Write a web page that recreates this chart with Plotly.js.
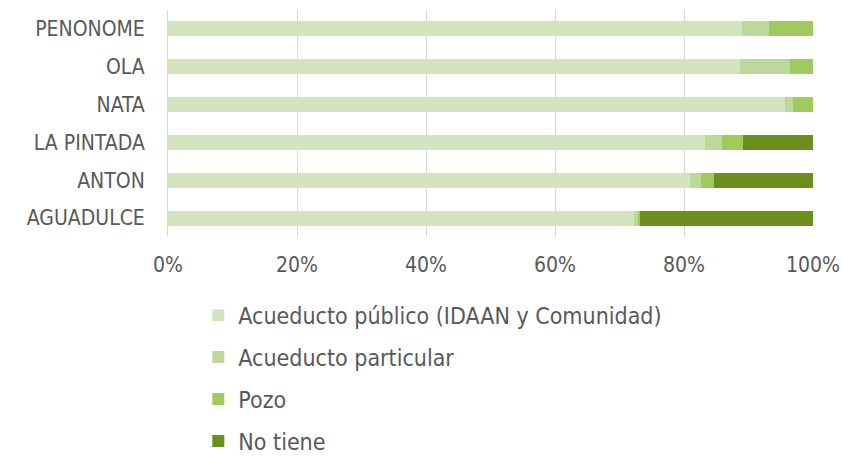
<!DOCTYPE html>
<html>
<head>
<meta charset="utf-8">
<script src="https://cdn.plot.ly/plotly-3.0.1.min.js"></script>
<style>html,body{margin:0;padding:0;background:#fff;}#chart{width:842px;height:456px;}</style>
</head>
<body>
<div id="chart"></div>
<script>
const categories = ["AGUADULCE", "ANTON", "LA PINTADA", "NATA", "OLA", "PENONOME"];
const seriesNames = ["Acueducto público (IDAAN y Comunidad)", "Acueducto particular", "Pozo", "No tiene"];
const publico    = [72.2, 80.9, 83.3, 95.7, 88.7, 89.0];
const particular = [0.6, 1.7, 2.6, 1.2, 7.7, 4.2];
const pozo       = [0.3, 2.1, 3.2, 3.1, 3.6, 6.8];
const noTiene    = [26.9, 15.3, 10.9, 0.0, 0.0, 0.0];
const colors = ["#d3e4bf", "#bcd89a", "#a0c95e", "#6a8f1c"];
const tickVals = [0, 20, 40, 60, 80, 100];
const tickText = ["0%", "20%", "40%", "60%", "80%", "100%"];

const values = [publico, particular, pozo, noTiene];
const font = "'DejaVu Sans Condensed', 'DejaVu Sans', sans-serif";
const traces = values.map((v, i) => ({
  type: "bar",
  orientation: "h",
  x: v,
  y: categories,
  name: seriesNames[i],
  legendgroup: "g" + i,
  marker: {color: colors[i], line: {width: 0}},
  hoverinfo: "x+name"
}));

const layout = {
  width: 842, height: 456,
  margin: {l: 168, r: 29, t: 10, b: 219, autoexpand: false},
  barmode: "stack",
  bargap: 0.6,
  paper_bgcolor: "#fff", plot_bgcolor: "#fff",
  font: {family: font, color: "#595959", size: 21},
  xaxis: {
    range: [0, 100], tickvals: tickVals, ticktext: tickText,
    showgrid: true, gridcolor: "#d9d9d9", gridwidth: 1,
    zeroline: false, showline: false,
    ticks: "outside", ticklen: 9, tickcolor: "rgba(0,0,0,0)",
    tickfont: {family: font, color: "#595959", size: 21},
    fixedrange: true
  },
  yaxis: {
    type: "category", categoryorder: "array", categoryarray: categories,
    showgrid: false, zeroline: false,
    showline: true, linecolor: "#d9d9d9", linewidth: 1,
    ticks: "outside", ticklen: 18, tickcolor: "rgba(0,0,0,0)",
    tickfont: {family: font, color: "#595959", size: 21},
    fixedrange: true
  },
  showlegend: true,
  legend: {
    orientation: "v", traceorder: "grouped",
    x: 0.047, xanchor: "left", y: -0.25, yanchor: "top",
    tracegroupgap: 9, itemwidth: 30,
    font: {family: font, color: "#595959", size: 23},
    bgcolor: "rgba(0,0,0,0)"
  }
};

Plotly.newPlot("chart", traces, layout, {displayModeBar: false, staticPlot: true});
</script>
</body>
</html>
